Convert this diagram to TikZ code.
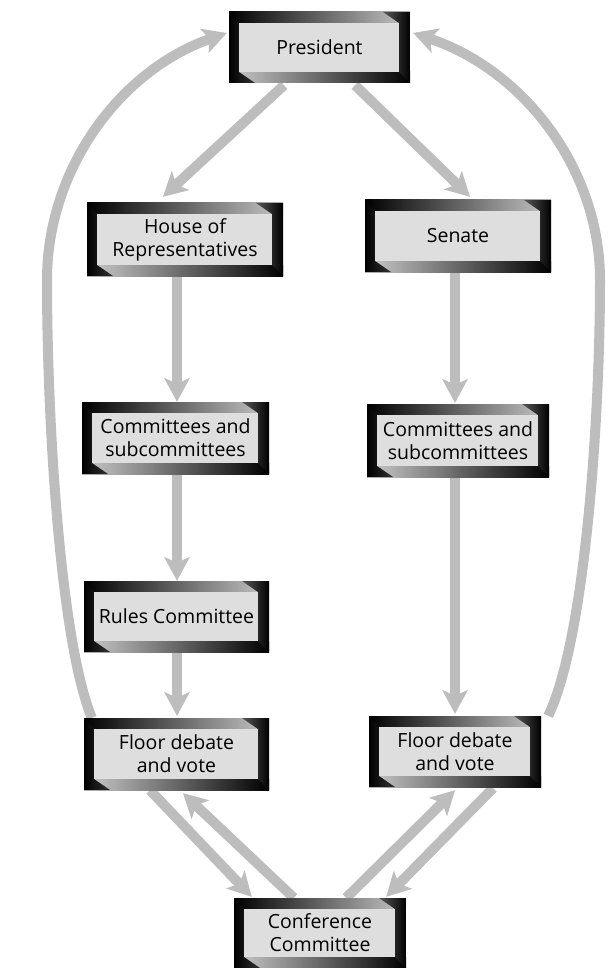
\documentclass[tikz,border=0pt]{standalone}
\usepackage{fontspec}
\setmainfont{Open Sans}
\usetikzlibrary{arrows.meta,calc,backgrounds}

\definecolor{flowgray}{RGB}{189,189,189}
\definecolor{panelgray}{RGB}{222,222,222}

\tikzset{
  % framed panel with a bevelled, shaded border
  panel/.style 2 args={
    minimum width=#1, minimum height=#2, inner sep=0pt, align=center,
    font=\fontsize{19.5}{23}\selectfont,
    path picture={
      \coordinate (bbSW) at (path picture bounding box.south west);
      \coordinate (bbNE) at (path picture bounding box.north east);
      \coordinate (bbNW) at (bbSW |- bbNE);
      \coordinate (bbSE) at (bbSW -| bbNE);
      % top band
      \shade[left color=black, right color=black!22]
        (bbNW) rectangle ($(bbNE)+(0pt,-11pt)$);
      % bottom band
      \shade[left color=black!20, right color=black]
        (bbSW) rectangle ($(bbSE)+(0pt,11pt)$);
      % left band with its mitred foot
      \shade[left color=black, right color=black!80]
        (bbSW) -- (bbNW) -- ($(bbNW)+(10pt,-11pt)$) -- ($(bbSW)+(10pt,11pt)$)
        -- ($(bbSW)+(26pt,0pt)$) -- cycle;
      % right band with its mitred head
      \shade[left color=black!65, right color=black]
        (bbNE) -- (bbSE) -- ($(bbSE)+(-11pt,11pt)$) -- ($(bbNE)+(-11pt,-11pt)$)
        -- ($(bbNE)+(-27pt,0pt)$) -- cycle;
      % face
      \fill[panelgray] ($(bbSW)+(10pt,11pt)$) rectangle ($(bbNE)+(-11pt,-11pt)$);
    }
  },
  flow/.style={draw=flowgray, line width=10pt,
    -{Stealth[length=24pt,width=26pt,inset=6pt,line width=0pt]}}
}

\begin{document}
\begin{tikzpicture}[x=1pt,y=-1pt]
\useasboundingbox (0,0) rectangle (611,968);

\node[panel={181pt}{71pt}] (pres)   at (319.5,47.5) {President};
\node[panel={196pt}{73pt}] (house)  at (185,239.5)  {House of\\Representatives};
\node[panel={186pt}{72pt}] (senate) at (458,236)    {Senate};
\node[panel={187pt}{72pt}] (comL)   at (175.5,438)  {Committees and\\subcommittees};
\node[panel={182pt}{73pt}] (comR)   at (458,440.5)  {Committees and\\subcommittees};
\node[panel={185pt}{71pt}] (rules)  at (176.5,616.5) {Rules Committee};
\node[panel={185pt}{72pt}] (floorL) at (176.5,754)  {Floor debate\\and vote};
\node[panel={172pt}{71pt}] (floorR) at (455,751.5)  {Floor debate\\and vote};
\node[panel={172pt}{70pt}] (conf)   at (320,933)    {Conference\\Committee};

\begin{pgfonlayer}{background}
  % president sends to both chambers
  \draw[flow] ($(pres.south)+(-35.5,2)$) -- ($(house.north)+(-22,-6)$);
  \draw[flow] ($(pres.south)+(35.5,2)$) -- ($(senate.north)+(12,-3)$);
  % house side
  \draw[flow] ($(house.south)+(-8,0)$) -- ($(comL.north)+(1.5,0)$);
  \draw[flow] ($(comL.south)+(1.5,0)$) -- ($(rules.north)+(0.5,0)$);
  \draw[flow] ($(rules.south)+(0.5,0)$) -- ($(floorL.north)+(0.5,-2)$);
  % senate side
  \draw[flow] ($(senate.south)+(-3,0)$) -- ($(comR.north)+(-3,-1)$);
  \draw[flow] ($(comR.south)+(-3,0)$) -- ($(floorR.north)+(0,-2)$);
  % back to the president
  \draw[flow] ($(floorL.north west)+(8,0)$) .. controls (60,640) and (47,420) .. (47,280)
    .. controls (47,170) and (119,71) .. ($(pres.west)+(-2,-14.5)$);
  \draw[flow] ($(floorR.north east)+(7,0)$) .. controls (585,640) and (600,420) .. (600,280)
    .. controls (600,170) and (525,71) .. ($(pres.east)+(3,-14.5)$);
  % conference exchanges
  \draw[flow] ($(floorL.south)+(-26.5,0)$) -- ($(conf.north west)+(18,-1)$);
  \draw[flow] ($(conf.north west)+(60,0)$) -- ($(floorL.south)+(6.5,3)$);
  \draw[flow] ($(floorR.south)+(38,1)$) -- ($(conf.north east)+(-20,-1)$);
  \draw[flow] ($(conf.north east)+(-60,0)$) -- ($(floorR.south)+(0,3)$);
\end{pgfonlayer}
\end{tikzpicture}
\end{document}
